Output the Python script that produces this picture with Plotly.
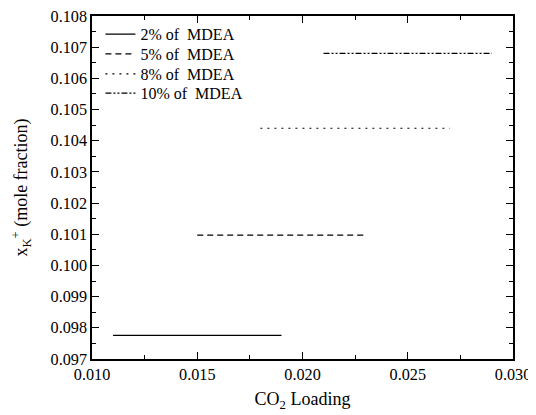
import plotly.graph_objects as go

series_names = ["2% of  MDEA", "5% of  MDEA", "8% of  MDEA", "10% of  MDEA"]
x_start = [0.011, 0.015, 0.018, 0.021]
x_end = [0.019, 0.023, 0.027, 0.029]
y_values = [0.09776, 0.10097, 0.10440, 0.10680]
dashes = ["solid", "6px,4px", "2px,5px", "6px,2px,2px,2px,2px,2px"]
x_ticks = [0.010, 0.015, 0.020, 0.025, 0.030]
y_ticks = [0.097, 0.098, 0.099, 0.100, 0.101, 0.102, 0.103, 0.104, 0.105, 0.106, 0.107, 0.108]
legend_ids = ["legend2", "legend3", "legend4", "legend5"]
legend_y = [0.947, 0.889, 0.831, 0.775]

fig = go.Figure()
for name, x0, x1, yv, d, lg in zip(series_names, x_start, x_end, y_values, dashes, legend_ids):
    fig.add_trace(go.Scatter(x=[x0, x1], y=[yv, yv], mode="lines", name=name, legend=lg,
                             line=dict(color="black", width=1.2, dash=d)))

family = "Liberation Serif, Times New Roman, serif"
tickfont = dict(family=family, size=16.2, color="black")
titlefont = dict(family=family, size=18, color="black")
legfont = dict(family=family, size=16, color="black")
axis_common = dict(showline=True, linecolor="black", linewidth=1.5, mirror="ticks",
                   ticks="inside", ticklen=7, tickwidth=1.2, tickcolor="black",
                   showgrid=False, zeroline=False, tickmode="array",
                   tickfont=tickfont, automargin=False, ticklabeloverflow="allow")
fig.update_xaxes(range=[0.010, 0.030], tickvals=x_ticks, ticktext=[f"{v:.3f}" for v in x_ticks],
                 minor=dict(ticks="inside", ticklen=4, tickmode="linear", tick0=0.010, dtick=0.0025,
                            tickcolor="black", tickwidth=1),
                 title=dict(text="CO<sub>2</sub> Loading", font=titlefont, standoff=9),
                 **axis_common)
fig.update_yaxes(range=[0.097, 0.108], tickvals=y_ticks, ticktext=[f"{v:.3f}" for v in y_ticks],
                 minor=dict(ticks="inside", ticklen=4, tickmode="linear", tick0=0.097, dtick=0.0005,
                            tickcolor="black", tickwidth=1),
                 title=dict(text="x<sub>K</sub><sup>+</sup> (mole fraction)", font=titlefont, standoff=18),
                 **axis_common)
layout_legends = {}
for lg, ly in zip(legend_ids, legend_y):
    layout_legends[lg] = dict(x=0.02, y=ly, xanchor="left", yanchor="middle",
                              bgcolor="rgba(0,0,0,0)", font=legfont)
fig.update_layout(width=528, height=407, margin=dict(l=84, r=23, t=8, b=56),
                  paper_bgcolor="white", plot_bgcolor="white", font=tickfont,
                  showlegend=True, **layout_legends)
fig.write_html("out.html")
